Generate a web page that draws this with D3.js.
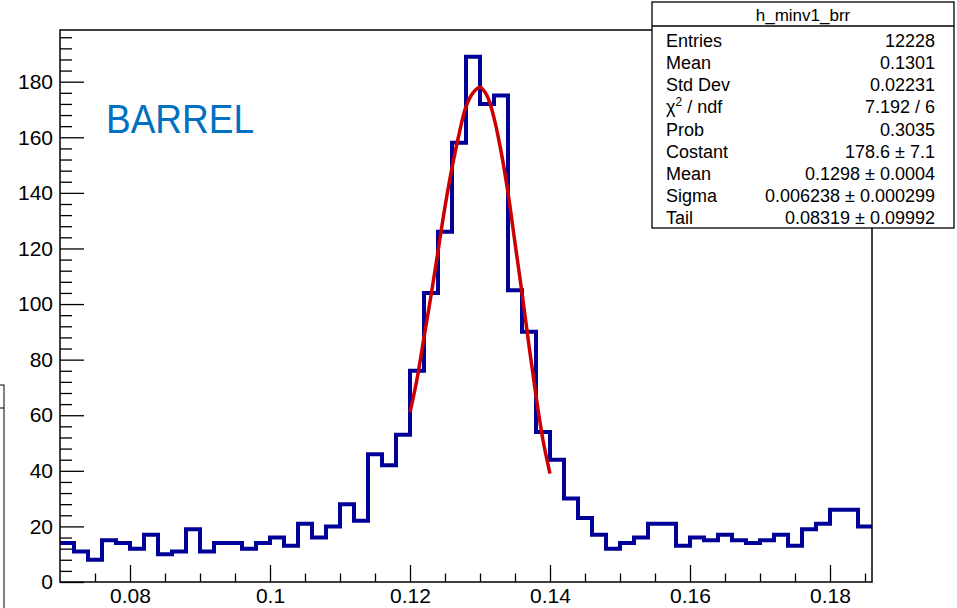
<!DOCTYPE html>
<html>
<head>
<meta charset="utf-8">
<script src="https://cdn.jsdelivr.net/npm/d3@7"></script>
<style>
  body { margin: 0; background: #fff; }
  text { font-family: "Liberation Sans", Arial, Helvetica, sans-serif; }
</style>
</head>
<body>
<svg width="957" height="608"></svg>
<script>
// histogram: 58 bins of 0.002 starting at 0.07
const xMin = 0.07;
const binWidth = 0.002;
const counts = [14, 11, 8, 15, 14, 12, 17, 10, 11, 19,
                11, 14, 14, 12, 14, 16, 13, 21, 16, 20,
                28, 22, 46, 42, 53, 76, 104, 126, 158, 189,
                172, 175, 105, 90, 54, 44, 30, 23, 17, 12,
                14, 16, 21, 21, 13, 16, 15, 17, 15, 14,
                15, 17, 13, 19, 21, 26, 26, 20];

// fit curve (x, y)
const fitX = [0.120, 0.121, 0.122, 0.123, 0.124, 0.125, 0.126, 0.127, 0.128, 0.129, 0.130,
              0.131, 0.132, 0.133, 0.134, 0.135, 0.136, 0.137, 0.138, 0.139, 0.140];
const fitY = [61, 73, 88, 103, 119, 135, 149, 161, 171, 176, 178,
              175, 167, 155, 140, 122, 104, 85, 67, 51, 39];

const xTicks = [0.08, 0.1, 0.12, 0.14, 0.16, 0.18];
const yTicks = [0, 20, 40, 60, 80, 100, 120, 140, 160, 180];

const statTitle = "h_minv1_brr";
const statLabels = ["Entries", "Mean", "Std Dev", "chi2", "Prob", "Costant", "Mean", "Sigma", "Tail"];
const statValues = ["12228", "0.1301", "0.02231", "7.192 / 6", "0.3035",
                    "178.6 \u00b1 7.1", "0.1298 \u00b1 0.0004",
                    "0.006238 \u00b1 0.000299", "0.08319 \u00b1 0.09992"];

const svg = d3.select("svg");
const fLeft = 60, fTop = 30, fRight = 872, fBottom = 582;

const x = d3.scaleLinear().domain([xMin, xMin + binWidth * counts.length]).range([fLeft, fRight]);
const y = d3.scaleLinear().domain([0, 198.6]).range([fBottom, fTop]);

// partial box at the left edge of the canvas
svg.append('rect')
    .attr('x', -20).attr('y', 385).attr('width', 24).attr('height', 260)
    .attr('fill', '#fff').attr('stroke', '#000').attr('stroke-width', 1);
svg.append('line')
    .attr('x1', 0).attr('x2', 4).attr('y1', 408).attr('y2', 408)
    .attr('stroke', '#000').attr('stroke-width', 1);

svg.append('clipPath').attr('id', 'frameClip')
  .append('rect')
    .attr('x', fLeft).attr('y', fTop).attr('width', fRight - fLeft).attr('height', fBottom - fTop);

// axes (ticks pointing inward)
const minorX = d3.range(0.075, 0.1851, 0.005).filter(v => !xTicks.some(t => Math.abs(t - v) < 1e-6));
svg.append('g')
    .attr('transform', `translate(0, ${fBottom})`)
    .call(d3.axisBottom(x).tickValues(minorX).tickSize(-8.5).tickFormat(''))
    .call(g => g.select('.domain').remove());
svg.append('g')
    .attr('transform', `translate(0, ${fBottom})`)
    .call(d3.axisBottom(x).tickValues(xTicks).tickSize(-17).tickPadding(6).tickFormat(d3.format('')))
    .call(g => g.select('.domain').remove())
    .call(g => g.selectAll('text').attr('font-size', 21).attr('fill', '#000')
        .attr('font-family', '"Liberation Sans", Arial, sans-serif'));

const minorY = d3.range(4, 197, 4).filter(v => v % 20 !== 0);
svg.append('g')
    .attr('transform', `translate(${fLeft}, 0)`)
    .call(d3.axisLeft(y).tickValues(minorY).tickSize(-12).tickFormat(''))
    .call(g => g.select('.domain').remove());
svg.append('g')
    .attr('transform', `translate(${fLeft}, 0)`)
    .call(d3.axisLeft(y).tickValues(yTicks).tickSize(-24).tickPadding(7))
    .call(g => g.select('.domain').remove())
    .call(g => g.selectAll('text').attr('font-size', 21).attr('fill', '#000')
        .attr('font-family', '"Liberation Sans", Arial, sans-serif'));

svg.selectAll('.tick line').attr('stroke', '#000').attr('stroke-width', 1.3);

// histogram outline
const steps = counts.map((c, i) => [xMin + i * binWidth, c]);
steps.push([xMin + counts.length * binWidth, counts[counts.length - 1]]);
svg.append('path')
    .datum(steps)
    .attr('clip-path', 'url(#frameClip)')
    .attr('fill', 'none')
    .attr('stroke', '#000099')
    .attr('stroke-width', 4)
    .attr('d', d3.line().x(d => x(d[0])).y(d => y(d[1])).curve(d3.curveStepAfter));

// fit
svg.append('path')
    .datum(fitX.map((v, i) => [v, fitY[i]]))
    .attr('fill', 'none')
    .attr('stroke', '#cc0000')
    .attr('stroke-width', 3.5)
    .attr('d', d3.line().x(d => x(d[0])).y(d => y(d[1])).curve(d3.curveCatmullRom));

// frame
svg.append('rect')
    .attr('x', fLeft).attr('y', fTop).attr('width', fRight - fLeft).attr('height', fBottom - fTop)
    .attr('fill', 'none').attr('stroke', '#000').attr('stroke-width', 1.5);

svg.append('text')
    .attr('x', 106).attr('y', 133)
    .attr('font-family', '"Open Sans", sans-serif')
    .attr('font-size', 41)
    .attr('textLength', 148)
    .attr('lengthAdjust', 'spacingAndGlyphs')
    .attr('fill', '#0070c0')
    .text('BARREL');

// stats box
const box = svg.append('g');
box.append('rect')
    .attr('x', 652).attr('y', 2).attr('width', 302).attr('height', 226)
    .attr('fill', '#fff').attr('stroke', '#000').attr('stroke-width', 1.3);
box.append('line')
    .attr('x1', 652).attr('x2', 954).attr('y1', 26).attr('y2', 26)
    .attr('stroke', '#000').attr('stroke-width', 1.3);
box.append('text')
    .attr('x', 803).attr('y', 20.5)
    .attr('text-anchor', 'middle').attr('font-size', 17)
    .text(statTitle);

statLabels.forEach((lab, i) => {
  const yy = 46.7 + i * 22.2;
  const t = box.append('text').attr('x', 666).attr('y', yy).attr('font-size', 18);
  if (lab === 'chi2') {
    t.append('tspan').text('\u03c7');
    t.append('tspan').attr('font-size', 12).attr('dy', -7).text('2');
    t.append('tspan').attr('dy', 7).text(' / ndf');
  } else {
    t.text(lab);
  }
  box.append('text')
      .attr('x', 935).attr('y', yy)
      .attr('text-anchor', 'end').attr('font-size', 18)
      .text(statValues[i]);
});
</script>
</body>
</html>
